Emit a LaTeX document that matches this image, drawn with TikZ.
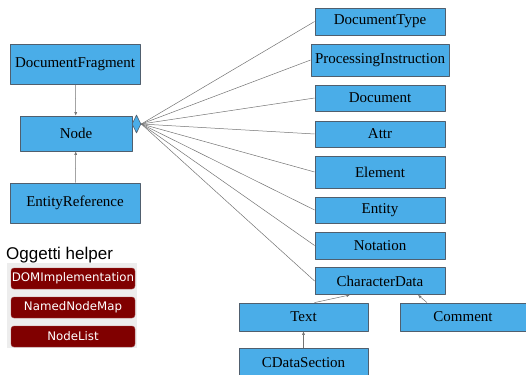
\documentclass[tikz,border=0pt]{standalone}
\usepackage{fontspec}
\setmainfont{Liberation Serif}
\newfontfamily\helperfont{DejaVu Sans}
\newfontfamily\titlefont{Liberation Sans}
\usetikzlibrary{arrows.meta,shapes.geometric}
\definecolor{boxblue}{RGB}{74,173,232}
\definecolor{boxline}{RGB}{80,95,110}
\definecolor{helperred}{RGB}{128,0,0}
\definecolor{helperbg}{RGB}{237,237,237}
\begin{document}
\begin{tikzpicture}[x=1pt,y=-1pt, line join=round,
	cls/.style={draw=boxline, fill=boxblue, line width=0.8pt, inner sep=0pt,
		font=\fontsize{15}{18}\selectfont, text=black},
	helper/.style={draw=helperred!75!white, fill=helperred, rounded corners=3pt,
		minimum width=124pt, minimum height=21pt, inner sep=0pt,
		font=\helperfont\fontsize{11.8}{14}\selectfont, text=white},
	link/.style={draw=black!55, line width=0.5pt},
	inh/.style={link, -{Latex[length=3.5pt,width=3pt]}}]
	
	\useasboundingbox (0,0) rectangle (526,374);
	
	% left column
	\node[cls, minimum width=130pt, minimum height=40pt] (frag) at (75,64.5) {DocumentFragment};
	\node[cls, minimum width=112pt, minimum height=35pt] (node) at (76,133.5) {Node};
	\node[cls, minimum width=130pt, minimum height=40pt] (entref) at (75,203) {EntityReference};
	\node[diamond, draw=boxline, fill=boxblue, line width=0.6pt, inner sep=0pt,
		minimum width=9pt, minimum height=18pt] (agg) at (136.5,124) {};
	
	% right column
	\node[cls, minimum width=130pt, minimum height=27pt] (doctype) at (380,21.5) {DocumentType};
	\node[cls, minimum width=138pt, minimum height=32pt] (procinst) at (380,60) {ProcessingInstruction};
	\node[cls, minimum width=130pt, minimum height=26pt] (doc) at (380,98) {Document};
	\node[cls, minimum width=130pt, minimum height=26pt] (attr) at (380,134) {Attr};
	\node[cls, minimum width=130pt, minimum height=32pt] (elem) at (380,172) {Element};
	\node[cls, minimum width=130pt, minimum height=26pt] (entity) at (380,210) {Entity};
	\node[cls, minimum width=130pt, minimum height=27pt] (notation) at (380,245.5) {Notation};
	\node[cls, minimum width=130pt, minimum height=27pt] (cdata) at (380,281) {CharacterData};
	\node[cls, minimum width=129pt, minimum height=28pt] (txt) at (303.5,317) {Text};
	\node[cls, minimum width=126pt, minimum height=28pt] (cmt) at (463,317) {Comment};
	\node[cls, minimum width=129pt, minimum height=30pt] (cdsec) at (303.5,363) {CDataSection};
	
	\draw[inh] (frag) -- (node);
	\draw[inh] (entref) -- (node);
	\foreach \b in {doctype,procinst,doc,attr,elem,entity,notation,cdata}
		\draw[link] (agg.east) -- (\b.west);
	\draw[inh] ([xshift=11pt]txt.north) -- ([xshift=-30pt]cdata.south);
	\draw[inh] ([xshift=-36pt]cmt.north) -- ([xshift=38pt]cdata.south);
	\draw[inh] (cdsec) -- (txt);
	
	% helper objects
	\node[anchor=west, inner sep=0pt, font=\titlefont\fontsize{17}{20}\selectfont] (helpers) at (6,255) {Oggetti helper};
	\fill[helperbg] (7,263) rectangle (137,348);
	\node[helper] (domimpl) at (73,278.5) {DOMImplementation};
	\node[helper] (nnmap) at (73,307.5) {NamedNodeMap};
	\node[helper] (nlist) at (73,336.5) {NodeList};
\end{tikzpicture}
\end{document}
